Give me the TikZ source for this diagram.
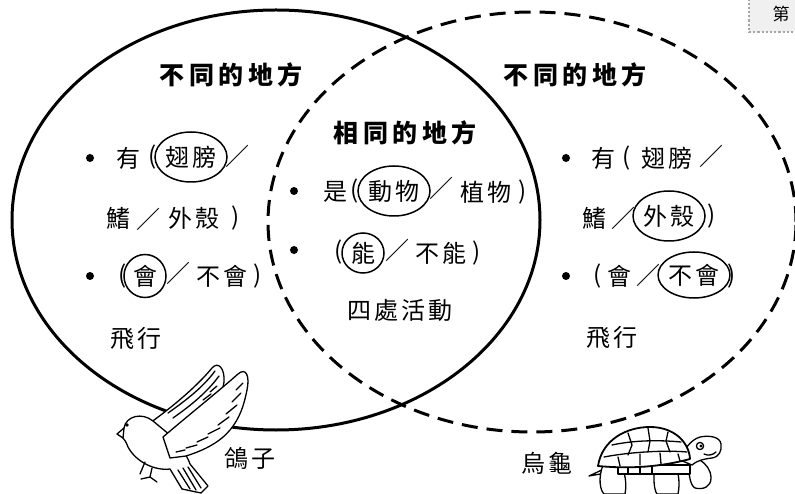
\documentclass[tikz,border=0pt]{standalone}
\usepackage{fontspec}
\usetikzlibrary{shapes.geometric}
\newfontfamily\tcbody[LetterSpace=12]{Noto Sans CJK TC}
\newfontfamily\tchead[LetterSpace=18]{Noto Sans CJK TC}
\newfontfamily\tcplain{Noto Sans CJK TC}
\tikzset{
  txt/.style={font=\tcbody\fontsize{24}{26}\selectfont, inner sep=0pt, text=black},
  hd/.style={font=\tchead\bfseries\fontsize{25}{27}\selectfont, inner sep=0pt},
  circ/.style={txt, draw, ellipse, line width=1.5pt, inner sep=0pt, minimum width=72pt, minimum height=50pt},
  onechar/.style={circ, minimum width=42pt, minimum height=43pt},
  dotmark/.style={circle, fill=black, inner sep=0pt, minimum size=8pt},
  setA/.style={draw, ellipse, line width=3pt, inner sep=0pt, minimum width=528pt, minimum height=420pt},
  setB/.style={setA, dash pattern=on 16pt off 9pt},
  pen/.style={line width=1.3pt, line join=round, line cap=round},
  fillpen/.style={pen, fill=white},
}
\begin{document}
\begin{tikzpicture}[x=1pt,y=-1pt]
\useasboundingbox (0,0) rectangle (795,494);
\fill[white] (0,0) rectangle (795,494);

% corner tab (cut off)
\begin{scope}
\clip (0,0) rectangle (795,494);
\draw[dotted, line width=2.2pt, draw=gray!70, fill=gray!12] (749,-10) rectangle (810,32);
\node[font=\tcplain\fontsize{17}{17}\selectfont, inner sep=0pt] (tab) at (781,14) {第};
\end{scope}

% sets
\node[setA] (pigeonset) at (276,220) {};
\node[setB] (turtleset) at (532,222) {};

% headings
\node[hd] (hL) at (231,75) {不同的地方};
\node[hd] (hR) at (575,75) {不同的地方};
\node[hd] (hM) at (405,133) {相同的地方};

% left list
\node[dotmark] (bL1) at (90,158) {};
\node[txt] (L1a) at (128,158) {有};
\node[txt] (L1b) at (153,157) {(};
\node[circ] (L1c) at (191,157) {翅膀};
\node[txt] (L1d) at (237,156) {／};
\node[txt] (L2a) at (118,218) {鰭};
\node[txt] (L2b) at (148,219) {／};
\node[txt] (L2c) at (194,218) {外殼};
\node[txt] (L2d) at (236,218) {)};
\node[dotmark] (bL2) at (90,276) {};
\node[txt] (L3a) at (123,276) {(};
\node[onechar] (L3b) at (145,276) {會};
\node[txt] (L3c) at (178,273) {／};
\node[txt] (L3d) at (222,276) {不會};
\node[txt] (L3e) at (258,276) {)};
\node[txt] (L4) at (136,338) {飛行};

% middle list
\node[dotmark] (bM1) at (294,191) {};
\node[txt] (M1a) at (335,192) {是};
\node[txt] (M1b) at (355,191) {(};
\node[circ] (M1c) at (394,191) {動物};
\node[txt] (M1d) at (441,188) {／};
\node[txt] (M1e) at (486,192) {植物};
\node[txt] (M1f) at (523,192) {)};
\node[dotmark] (bM2) at (294,250) {};
\node[txt] (M2a) at (339,252) {(};
\node[onechar, minimum height=40pt] (M2b) at (363,253) {能};
\node[txt] (M2c) at (397,250) {／};
\node[txt] (M2d) at (441,253) {不能};
\node[txt] (M2e) at (477,253) {)};
\node[txt] (M3) at (400,310) {四處活動};

% right list
\node[dotmark] (bR1) at (566,158) {};
\node[txt] (R1a) at (603,158) {有};
\node[txt] (R1b) at (627,158) {(};
\node[txt] (R1c) at (667,158) {翅膀};
\node[txt] (R1d) at (711,156) {／};
\node[txt] (R2a) at (594,218) {鰭};
\node[txt] (R2b) at (623,218) {／};
\node[circ] (R2c) at (669,216) {外殼};
\node[txt] (R2d) at (712,216) {)};
\node[dotmark] (bR2) at (566,276) {};
\node[txt] (R3a) at (598,276) {(};
\node[txt] (R3b) at (619,276) {會};
\node[txt] (R3c) at (648,275) {／};
\node[circ, minimum width=68pt, minimum height=46pt] (R3d) at (694,275) {不會};
\node[txt] (R3e) at (732,276) {)};
\node[txt] (R4) at (612,337) {飛行};

% labels
\node[txt] (pigeon) at (250,458) {鴿子};
\node[txt] (turtle) at (547,463) {烏龜};

% ---------- pigeon ----------
% back wing
\draw[fillpen] (150,423) .. controls (175,405) and (198,385) .. (212,368)
  .. controls (218,361) and (225,368) .. (224,382)
  .. controls (222,398) and (208,412) .. (190,425) -- (172,436) -- cycle;
\draw[pen] (168,413) .. controls (188,399) and (204,386) .. (215,371);
\draw[pen] (173,418) .. controls (193,404) and (208,391) .. (219,376);
\draw[pen] (210,392) -- (217,386) (203,400) -- (211,394);
% body
\draw[fillpen] (117,434) -- (124,428) .. controls (126,416) and (142,412) .. (153,421)
  -- (176,440) .. controls (183,450) and (188,458) .. (190,464)
  -- (208,486) -- (201,493) -- (182,489) -- (170,469)
  .. controls (155,471) and (136,462) .. (128,447)
  .. controls (126,442) and (125,440) .. (123,438) -- cycle;
\draw[pen] (124,428) -- (123,438);
\fill (127,425) circle (1.8);
% tail lines
\draw[pen] (178,470) -- (190,489);
\draw[pen] (183,468) -- (196,490);
\draw[pen] (188,467) -- (201,488);
% feet
\draw[pen] (152,468) -- (150,477) -- (141,479);
\draw[pen] (150,477) -- (157,482);
\draw[pen] (145,462) -- (140,474);
% front wing
\draw[fillpen] (163,437) .. controls (190,414) and (220,390) .. (238,374)
  .. controls (246,367) and (250,376) .. (247,390)
  .. controls (244,405) and (240,418) .. (230,430)
  .. controls (220,442) and (205,450) .. (186,456) -- (170,458) -- cycle;
\draw[pen] (197,442) -- (208,437);
\draw[pen] (208,434) -- (220,428);
\draw[pen] (218,425) -- (229,417);
\draw[pen] (226,414) -- (237,405);
\draw[pen] (232,402) -- (241,393);
\draw[pen] (236,390) -- (243,383);
\draw[pen] (186,448) -- (197,445);
\draw[pen] (176,452) -- (185,450);

% ---------- turtle ----------
\draw[pen] (606,468) -- (589,476) -- (606,473);
\draw[fillpen] (603,465) .. controls (598,478) and (600,490) .. (604,494) -- (625,494)
  .. controls (627,484) and (625,472) .. (621,465) -- cycle;
\draw[fillpen] (655,466) .. controls (653,478) and (654,490) .. (657,494) -- (678,494)
  .. controls (680,484) and (679,472) .. (675,466) -- cycle;
\draw[fillpen] (688,462) .. controls (689,475) and (690,485) .. (695,488)
  .. controls (703,490) and (711,487) .. (711,478)
  .. controls (711,470) and (706,464) .. (700,460) -- cycle;
\draw[fillpen] (618,465) rectangle (690,474);
\draw[pen] (628,466) -- (628,473) (640,466) -- (640,473) (652,466) -- (652,473);
% head and neck
\draw[fillpen] (680,460) .. controls (684,450) and (690,440) .. (700,437)
  .. controls (710,435) and (720,437) .. (721,444)
  .. controls (722,451) and (719,457) .. (712,458)
  .. controls (704,459) and (698,460) .. (692,465) -- cycle;
\draw[pen] (700,446) circle (3.6);
\fill (701,446) circle (1.6);
\draw[pen] (704,454) .. controls (708,456) and (713,455) .. (716,452);
% shell
\draw[fillpen, line width=1.8pt] (598,466) .. controls (602,440) and (626,427) .. (650,427)
  .. controls (674,427) and (689,442) .. (690,459)
  .. controls (660,467) and (630,469) .. cycle;
\draw[pen] (604,457) .. controls (630,452) and (665,450) .. (687,452);
\draw[pen] (612,445) .. controls (635,440) and (660,440) .. (681,442);
\draw[pen] (628,433) -- (632,445) -- (628,455);
\draw[pen] (648,428) -- (650,441) -- (648,452);
\draw[pen] (668,432) -- (666,441) -- (670,452);
\draw[pen] (618,457) -- (620,466) (640,454) -- (640,465) (660,453) -- (661,464) (678,454) -- (680,461);
\end{tikzpicture}
\end{document}
